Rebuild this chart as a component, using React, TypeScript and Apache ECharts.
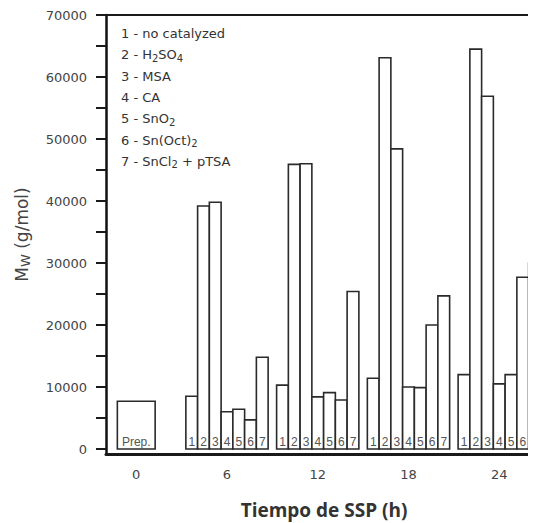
import React, { useEffect, useRef } from "react";
import * as echarts from "echarts";

// ---- data ----
const groupTimes = [6, 12, 18, 24];
const prepTime = 0;
const prepValue = 7700;
const prepLabel = "Prep.";
const mwAt6h = [8500, 39200, 39800, 6000, 6400, 4700, 14800];
const mwAt12h = [10300, 45900, 46000, 8400, 9100, 7900, 25400];
const mwAt18h = [11400, 63100, 48400, 10000, 9900, 20000, 24700];
const mwAt24h = [12000, 64500, 56900, 10500, 12000, 27700, 30000];
const groupValues = [mwAt6h, mwAt12h, mwAt18h, mwAt24h];
const catalystNames = [
  "no catalyzed",
  "H{s|2}SO{s|4}",
  "MSA",
  "CA",
  "SnO{s|2}",
  "Sn(Oct){s|2}",
  "SnCl{s|2} + pTSA",
];
const xTickLabels = [0, 6, 12, 18, 24];
const yTickLabels = [0, 10000, 20000, 30000, 40000, 50000, 60000, 70000];
const yMinorTicks = [0, 5000, 10000, 15000, 20000, 25000, 30000, 35000, 40000, 45000, 50000, 55000, 60000, 65000, 70000];
const xAxisTitle = "Tiempo de SSP (h)";

const FONT = "DejaVu Sans";
const BAR_FONT = "Arial";

export default function App() {
  const ref = useRef<HTMLDivElement>(null);
  useEffect(() => {
    if (!ref.current) return;
    const chart = echarts.init(ref.current, null, { renderer: "svg" });

    // [time, index (-1 = prep, 0..6 = catalyst), value]
    const items: any[] = [[prepTime, -1, prepValue]];
    groupTimes.forEach((t, g) => {
      groupValues[g].forEach((v, i) => items.push([t, i, v]));
    });

    const GROUP_HALF = 2.72; // hours
    const BAR_W = 0.777; // hours
    const PREP_HALF = 1.25; // hours

    const renderItem = (params: any, api: any) => {
      const t = api.value(0);
      const idx = api.value(1);
      const v = api.value(2);
      let x0: number, x1: number, label: string;
      if (idx < 0) {
        x0 = t - PREP_HALF;
        x1 = t + PREP_HALF;
        label = prepLabel;
      } else {
        x0 = t - GROUP_HALF + idx * BAR_W;
        x1 = x0 + BAR_W;
        label = String(idx + 1);
      }
      const pTop = api.coord([x0, v]);
      const pBot = api.coord([x1, 0]);
      const x = pTop[0];
      const y = pTop[1];
      const w = pBot[0] - pTop[0];
      const h = pBot[1] - pTop[1];
      return {
        type: "group",
        children: [
          {
            type: "rect",
            shape: { x, y, width: w, height: h },
            style: { fill: "#fff", stroke: "#2a2a2a", lineWidth: 1.6 },
          },
          {
            type: "text",
            style: {
              text: label,
              x: x + w / 2,
              y: pBot[1] - 7.5,
              align: "center",
              verticalAlign: "middle",
              fontSize: 12,
              fontFamily: BAR_FONT,
              fill: "#555",
            },
          },
        ],
      };
    };

    const legendChildren = catalystNames.map((n, i) => ({
      type: "text",
      left: 121,
      top: 27 + i * 21.3,
      style: {
        text: `${i + 1} - ${n}`,
        fontSize: 13,
        fontFamily: FONT,
        fill: "#333",
        rich: {
          s: {
            fontSize: 10,
            fontFamily: FONT,
            fill: "#333",
            padding: [7, 0, 0, 0],
          },
        },
      },
    }));

    chart.setOption({
      animation: false,
      backgroundColor: "#fff",
      grid: {
        left: 106,
        top: 15,
        width: 484,
        bottom: 69,
        containLabel: false,
        outerBoundsMode: "none",
      },
      xAxis: [
        {
          type: "value",
          min: -2,
          max: 30,
          position: "bottom",
          splitLine: { show: false },
          axisLine: { show: true, onZero: false, lineStyle: { color: "#1a1a1a", width: 3 } },
          axisTick: { show: false },
          axisLabel: {
            customValues: xTickLabels,
            fontSize: 13,
            color: "#444",
            margin: 14,
            fontFamily: FONT,
          },
        },
        {
          type: "value",
          min: -2,
          max: 30,
          position: "top",
          splitLine: { show: false },
          axisLine: { show: true, onZero: false, lineStyle: { color: "#1a1a1a", width: 2 } },
          axisTick: { show: false },
          axisLabel: { show: false },
        },
      ],
      yAxis: {
        type: "value",
        min: -806,
        max: 70000,
        position: "left",
        splitLine: { show: false },
        axisLine: { show: true, onZero: false, lineStyle: { color: "#111", width: 2.5 } },
        axisTick: {
          show: true,
          customValues: yMinorTicks,
          length: 10,
          lineStyle: { color: "#1a1a1a", width: 2 },
        },
        axisLabel: {
          customValues: yTickLabels,
          formatter: (v: number) => String(v),
          fontSize: 13,
          color: "#444",
          margin: 19,
          fontFamily: FONT,
        },
        name: "{m|M}{w|W} (g/mol)",
        nameLocation: "middle",
        nameGap: 74,
        nameRotate: 90,
        nameTextStyle: {
          fontSize: 17,
          color: "#444",
          fontFamily: FONT,
          rich: {
            m: { fontSize: 17, color: "#444", fontFamily: FONT },
            w: { fontSize: 13, color: "#444", fontFamily: FONT, padding: [7, 0, 0, 0] },
          },
        },
      },
      graphic: [
        ...legendChildren,
        {
          type: "text",
          x: 324,
          y: 510,
          style: {
            text: xAxisTitle,
            align: "center",
            verticalAlign: "middle",
            fontSize: 19,
            fontWeight: "bold",
            fontFamily: "Open Sans",
            fill: "#333",
          },
        },
      ],
      series: [
        {
          type: "custom",
          renderItem,
          clip: false,
          data: items,
          encode: { x: 0, y: 2 },
        },
      ],
    });
    return () => chart.dispose();
  }, []);
  return <div ref={ref} style={{ width: 536, height: 523, marginLeft: -8, marginTop: -8 }} />;
}
